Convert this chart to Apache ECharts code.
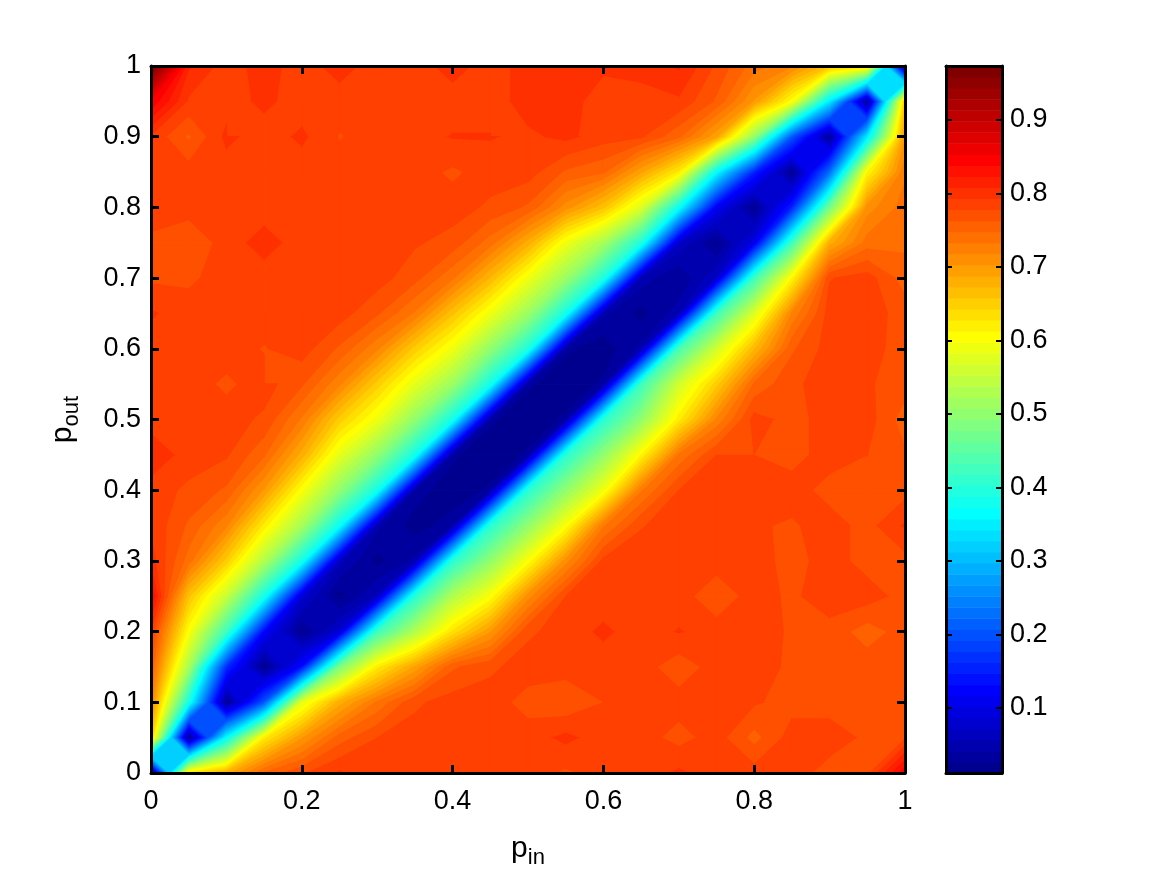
<!DOCTYPE html>
<html>
<head>
<meta charset="utf-8">
<title>p_in / p_out</title>
<script src="https://cdn.jsdelivr.net/npm/echarts@6/dist/echarts.min.js"></script>
<style>
    html, body { margin: 0; padding: 0; background: #fff; }
    #main { width: 1159px; height: 870px; }
</style>
</head>
<body>
<div id="main"></div>
<script>
    // grid of the contour plot, columns are p_in and rows are p_out
    var pIn = [0,0.05,0.1,0.15,0.2,0.25,0.3,0.35,0.4,0.45,0.5,0.55,0.6,0.65,0.7,0.75,0.8,0.85,0.9,0.95,1];
    var pOut = [0,0.05,0.1,0.15,0.2,0.25,0.3,0.35,0.4,0.45,0.5,0.55,0.6,0.65,0.7,0.75,0.8,0.85,0.9,0.95,1];

    // values, row 0 is p_out = 0
    var row00 = [.012,.62,.68,.75,.775,.795,.785,.785,.785,.785,.785,.775,.785,.785,.796,.785,.785,.785,.772,.772,.85];
    var row01 = [.65,.015,.36,.62,.7,.755,.778,.785,.785,.785,.785,.797,.785,.785,.772,.785,.757,.785,.785,.775,.775];
    var row02 = [.72,.38,.02,.2,.58,.68,.735,.775,.785,.785,.772,.765,.778,.785,.785,.785,.78,.772,.772,.772,.772];
    var row03 = [.76,.52,.16,.018,.13,.48,.62,.69,.76,.775,.785,.785,.785,.785,.768,.785,.785,.775,.772,.772,.772];
    var row04 = [.79,.6,.42,.12,.02,.08,.42,.53,.63,.7,.775,.785,.796,.785,.794,.785,.785,.776,.772,.755,.77];
    var row05 = [.84,.66,.55,.38,.08,.018,.06,.4,.53,.6,.71,.778,.785,.785,.785,.767,.785,.775,.787,.785,.772];
    var row06 = [.8,.74,.65,.53,.38,.06,.02,.045,.4,.5,.6,.71,.782,.785,.785,.785,.785,.772,.785,.772,.772];
    var row07 = [.79,.76,.72,.62,.52,.37,.045,.018,.035,.4,.5,.6,.73,.777,.785,.785,.78,.776,.785,.772,.795];
    var row08 = [.785,.775,.76,.7,.6,.5,.38,.035,.015,.03,.4,.5,.59,.73,.778,.785,.785,.785,.772,.772,.772];
    var row09 = [.805,.785,.78,.75,.68,.58,.5,.38,.03,.012,.03,.4,.5,.61,.735,.778,.778,.772,.785,.778,.765];
    var row10 = [.785,.785,.785,.775,.73,.65,.59,.5,.38,.03,.012,.03,.4,.5,.62,.72,.784,.772,.785,.785,.755];
    var row11 = [.785,.785,.775,.785,.765,.72,.65,.58,.51,.38,.03,.012,.03,.42,.56,.65,.75,.775,.785,.78,.77];
    var row12 = [.785,.785,.785,.777,.785,.76,.72,.65,.59,.5,.39,.03,.015,.045,.43,.56,.67,.76,.785,.785,.77];
    var row13 = [.795,.785,.785,.785,.785,.785,.765,.73,.66,.59,.51,.38,.045,.02,.05,.42,.57,.72,.785,.785,.772];
    var row14 = [.775,.775,.785,.785,.785,.785,.785,.768,.735,.67,.59,.51,.39,.05,.025,.07,.42,.61,.777,.785,.755];
    var row15 = [.775,.765,.785,.8,.785,.785,.785,.78,.772,.74,.68,.59,.52,.39,.07,.02,.1,.42,.68,.74,.745];
    var row16 = [.785,.785,.785,.785,.785,.785,.785,.785,.785,.775,.76,.71,.66,.57,.37,.11,.02,.15,.47,.71,.74];
    var row17 = [.785,.785,.785,.785,.785,.785,.785,.785,.775,.785,.785,.76,.75,.69,.62,.36,.15,.02,.22,.61,.73];
    var row18 = [.79,.76,.797,.785,.796,.777,.785,.785,.794,.794,.79,.797,.785,.78,.75,.69,.5,.2,.025,.34,.7];
    var row19 = [.85,.79,.785,.797,.785,.785,.785,.785,.785,.785,.8,.8,.785,.785,.79,.76,.7,.6,.34,.02,.65];
    var row20 = [.975,.81,.785,.8,.785,.8,.785,.785,.8,.785,.8,.8,.796,.8,.81,.775,.74,.72,.66,.63,.012];
    var zRows = [row00,row01,row02,row03,row04,row05,row06,row07,row08,row09,row10,
                 row11,row12,row13,row14,row15,row16,row17,row18,row19,row20];

    var xTicks = [0,0.2,0.4,0.6,0.8,1];
    var yTicks = [0,0.1,0.2,0.3,0.4,0.5,0.6,0.7,0.8,0.9,1];
    var barTicks = [0.1,0.2,0.3,0.4,0.5,0.6,0.7,0.8,0.9];
    var zMin = 0.0116;
    var zMax = 0.9735;
    var nBands = 64;

    var step = (zMax - zMin) / nBands;
    var fontName = '"Liberation Sans", Arial, sans-serif';

    // matlab jet(64), row is 1..64
    function jet(row) {
        var r, g, b;
        b = row <= 8 ? 0.5 + row / 16 : (row <= 24 ? 1 : (row <= 40 ? 1 - (row - 24) / 16 : 0));
        g = row <= 8 ? 0 : (row <= 24 ? (row - 8) / 16 : (row <= 40 ? 1 : (row <= 56 ? 1 - (row - 40) / 16 : 0)));
        r = row <= 24 ? 0 : (row <= 40 ? (row - 24) / 16 : (row <= 56 ? 1 : 1 - (row - 56) / 16));
        return 'rgb(' + Math.round(r * 255) + ',' + Math.round(g * 255) + ',' + Math.round(b * 255) + ')';
    }

    function bandOf(v) {
        return Math.max(0, Math.min(nBands - 1, Math.floor((v - zMin) / step)));
    }

    // part of one cell that lies above level, as one or two polygons (marching squares)
    function cellAbove(pts, vals, level) {
        var center = (vals[0] + vals[1] + vals[2] + vals[3]) / 4;
        var up = vals.map(function (v) { return v >= level; });
        var out = [], poly = [];
        var saddle = up[0] === up[2] && up[1] === up[3] && up[0] !== up[1];
        for (var k = 0; k < 4; k++) {
            var n = (k + 1) % 4;
            if (up[k]) poly.push(pts[k]);
            if (up[k] !== up[n]) {
                var t = (level - vals[k]) / (vals[n] - vals[k]);
                poly.push([pts[k][0] + t * (pts[n][0] - pts[k][0]), pts[k][1] + t * (pts[n][1] - pts[k][1])]);
                // the two high corners stay apart when the saddle is below the level
                if (saddle && center < level && !up[n]) {
                    out.push(poly);
                    poly = [];
                }
            }
        }
        if (poly.length) out.push(poly);
        return out;
    }

    // every cell gets one item per band it touches, painted from low band to high band
    var cellBands = [];
    for (var j = 0; j < pOut.length - 1; j++) {
        for (var i = 0; i < pIn.length - 1; i++) {
            var cellVals = [zRows[j][i], zRows[j][i + 1], zRows[j + 1][i + 1], zRows[j + 1][i]];
            var first = bandOf(Math.min.apply(null, cellVals));
            var last = bandOf(Math.max.apply(null, cellVals));
            for (var b = first; b <= last; b++) {
                cellBands.push([i, j, b, b === first ? 1 : 0]);
            }
        }
    }
    cellBands.sort(function (p, q) { return p[2] - q[2]; });

    function renderCell(params, api) {
        var i = api.value(0), j = api.value(1), band = api.value(2), isBase = api.value(3);
        var pts = [
            api.coord([pIn[i], pOut[j]]),
            api.coord([pIn[i + 1], pOut[j]]),
            api.coord([pIn[i + 1], pOut[j + 1]]),
            api.coord([pIn[i], pOut[j + 1]])
        ];
        var vals = [zRows[j][i], zRows[j][i + 1], zRows[j + 1][i + 1], zRows[j + 1][i]];
        var parts = isBase ? [pts] : cellAbove(pts, vals, zMin + band * step);
        var color = jet(band + 1);
        return {
            type: 'group',
            children: parts.map(function (part) {
                return {
                    type: 'polygon', shape: { points: part },
                    style: { fill: color, stroke: color, lineWidth: 1.2 }
                };
            })
        };
    }

    var barData = [];
    for (var n = 0; n < nBands; n++) barData.push([n]);

    function renderBand(params, api) {
        var n = api.value(0);
        var a = api.coord([0, zMin + n * step]);
        var c = api.coord([1, zMin + (n + 1) * step]);
        return {
            type: 'rect',
            shape: { x: a[0], y: c[1], width: c[0] - a[0], height: a[1] - c[1] + 0.5 },
            style: { fill: jet(n + 1) }
        };
    }

    var boxLine = { show: true, onZero: false, lineStyle: { color: '#000', width: 3 } };
    var inTick = { show: true, inside: true, length: 8, lineStyle: { color: '#000', width: 3 } };
    var labelFont = { color: '#000', fontFamily: fontName, fontSize: 27 };
    var nameRich = {
        p: { color: '#000', fontFamily: fontName, fontSize: 30 },
        s: { color: '#000', fontFamily: fontName, fontSize: 22, padding: [18, 0, 0, 0] }
    };

    var myChart = echarts.init(document.getElementById('main'));
    var option = {
        animation: false,
        backgroundColor: '#fff',
        grid: [
            { left: 151, top: 66, width: 754, height: 707, outerBoundsMode: 'none' },
            { left: 946, top: 66, width: 56, height: 707, outerBoundsMode: 'none' }
        ],
        xAxis: [
            {
                type: 'value', gridIndex: 0, position: 'bottom', min: 0, max: 1, interval: xTicks[1] - xTicks[0], z: 5,
                splitLine: { show: false }, axisLine: boxLine, axisTick: inTick,
                axisLabel: Object.assign({ margin: 15 }, labelFont),
                name: '{p|p}{s|in}', nameLocation: 'middle', nameGap: 56,
                nameTextStyle: { rich: nameRich }
            },
            {
                type: 'value', gridIndex: 0, position: 'top', min: 0, max: 1, interval: xTicks[1] - xTicks[0], z: 5,
                splitLine: { show: false }, axisLine: boxLine, axisTick: inTick, axisLabel: { show: false }
            },
            {
                type: 'value', gridIndex: 1, position: 'bottom', min: 0, max: 1, z: 5,
                splitLine: { show: false }, axisLine: boxLine, axisTick: { show: false }, axisLabel: { show: false }
            },
            {
                type: 'value', gridIndex: 1, position: 'top', min: 0, max: 1, z: 5,
                splitLine: { show: false }, axisLine: boxLine, axisTick: { show: false }, axisLabel: { show: false }
            }
        ],
        yAxis: [
            {
                type: 'value', gridIndex: 0, position: 'left', min: 0, max: 1, interval: yTicks[1] - yTicks[0], z: 5,
                splitLine: { show: false }, axisLine: boxLine, axisTick: inTick,
                axisLabel: Object.assign({ margin: 10 }, labelFont),
                name: '{p|p}{s|out}', nameLocation: 'middle', nameGap: 68, nameRotate: 90,
                nameTextStyle: { rich: nameRich }
            },
            {
                type: 'value', gridIndex: 0, position: 'right', min: 0, max: 1, interval: yTicks[1] - yTicks[0], z: 5,
                splitLine: { show: false }, axisLine: boxLine, axisTick: inTick, axisLabel: { show: false }
            },
            {
                type: 'value', gridIndex: 1, position: 'left', min: zMin, max: zMax, z: 5,
                splitLine: { show: false }, axisLine: boxLine,
                axisTick: { show: true, inside: true, length: 6, customValues: barTicks, lineStyle: { color: '#000', width: 2 } },
                axisLabel: { show: false }
            },
            {
                type: 'value', gridIndex: 1, position: 'right', min: zMin, max: zMax, z: 5,
                splitLine: { show: false }, axisLine: boxLine,
                axisTick: { show: true, inside: true, length: 6, customValues: barTicks, lineStyle: { color: '#000', width: 2 } },
                axisLabel: Object.assign({ margin: 8, customValues: barTicks }, labelFont)
            }
        ],
        series: [
            {
                type: 'custom', xAxisIndex: 0, yAxisIndex: 0, silent: true,
                renderItem: renderCell, data: cellBands
            },
            {
                type: 'custom', xAxisIndex: 2, yAxisIndex: 2, silent: true,
                renderItem: renderBand, data: barData
            }
        ]
    };
    myChart.setOption(option);
</script>
</body>
</html>
